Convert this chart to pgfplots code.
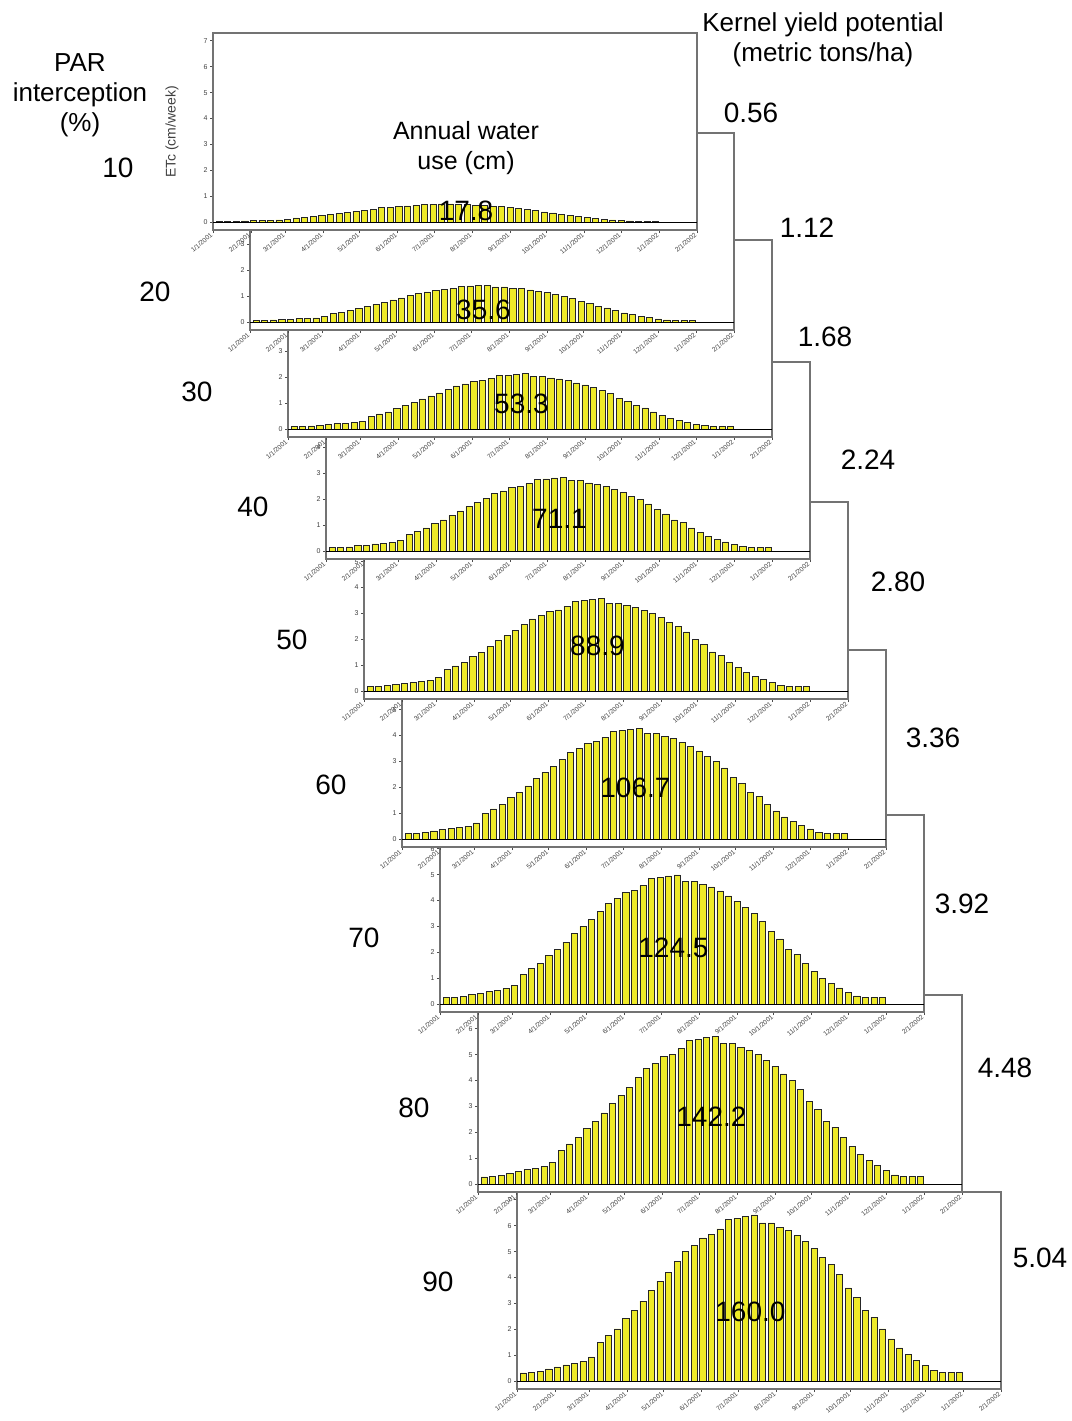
\documentclass[border=0pt]{standalone}
\usepackage{pgfplots}
\usepackage{pgfplotstable}
\pgfplotsset{compat=1.18}
\usepackage{fontspec}
\setmainfont{Liberation Sans}
\setsansfont{Liberation Sans}
\definecolor{baryellow}{RGB}{238,234,40}
\definecolor{framegray}{RGB}{115,115,115}

\pgfplotstableread{
x p10 p20 p30 p40 p50 p60 p70 p80 p90
5 0.04 0.07 0.11 0.14 0.18 0.21 0.25 0.28 0.32
12 0.04 0.08 0.12 0.16 0.19 0.23 0.27 0.31 0.35
19 0.04 0.09 0.13 0.17 0.22 0.26 0.30 0.35 0.39
26 0.05 0.11 0.16 0.21 0.27 0.32 0.37 0.43 0.48
33 0.06 0.12 0.18 0.24 0.31 0.37 0.43 0.49 0.55
40 0.07 0.14 0.21 0.28 0.35 0.42 0.49 0.56 0.63
47 0.08 0.15 0.23 0.30 0.38 0.45 0.53 0.60 0.68
54 0.09 0.17 0.26 0.34 0.43 0.51 0.60 0.68 0.77
61 0.10 0.21 0.31 0.42 0.52 0.63 0.73 0.84 0.94
68 0.17 0.33 0.50 0.66 0.83 0.99 1.16 1.32 1.49
75 0.20 0.39 0.59 0.78 0.98 1.17 1.37 1.56 1.76
82 0.22 0.45 0.67 0.90 1.12 1.35 1.57 1.80 2.02
89 0.27 0.54 0.80 1.07 1.34 1.61 1.87 2.14 2.41
96 0.30 0.60 0.91 1.21 1.51 1.81 2.12 2.42 2.72
103 0.34 0.69 1.03 1.37 1.72 2.06 2.40 2.75 3.09
110 0.39 0.78 1.17 1.56 1.95 2.34 2.73 3.12 3.51
117 0.43 0.86 1.29 1.72 2.14 2.57 3.00 3.43 3.86
124 0.47 0.94 1.40 1.87 2.34 2.81 3.27 3.74 4.21
131 0.51 1.03 1.54 2.05 2.57 3.08 3.59 4.11 4.62
138 0.56 1.12 1.67 2.23 2.79 3.35 3.90 4.46 5.02
145 0.58 1.17 1.75 2.33 2.92 3.50 4.08 4.67 5.25
152 0.61 1.23 1.84 2.46 3.07 3.69 4.30 4.92 5.53
159 0.63 1.26 1.88 2.51 3.14 3.77 4.39 5.02 5.65
166 0.65 1.31 1.96 2.61 3.27 3.92 4.57 5.23 5.88
173 0.69 1.39 2.08 2.77 3.47 4.16 4.85 5.55 6.24
180 0.70 1.40 2.09 2.79 3.49 4.19 4.88 5.58 6.28
187 0.71 1.42 2.12 2.83 3.54 4.25 4.95 5.66 6.37
194 0.71 1.43 2.14 2.85 3.57 4.28 4.99 5.71 6.42
201 0.68 1.36 2.04 2.72 3.39 4.07 4.75 5.43 6.11
208 0.68 1.36 2.04 2.72 3.39 4.07 4.75 5.43 6.11
215 0.66 1.32 1.98 2.64 3.31 3.97 4.63 5.29 5.95
222 0.65 1.29 1.94 2.59 3.23 3.88 4.53 5.17 5.82
229 0.62 1.25 1.87 2.50 3.12 3.75 4.37 5.00 5.62
236 0.60 1.20 1.79 2.39 2.99 3.59 4.18 4.78 5.38
243 0.57 1.14 1.71 2.28 2.84 3.41 3.98 4.55 5.12
250 0.53 1.06 1.60 2.13 2.66 3.19 3.73 4.26 4.79
257 0.50 1.00 1.50 2.00 2.50 3.00 3.50 4.00 4.50
264 0.46 0.92 1.37 1.83 2.29 2.75 3.20 3.66 4.12
271 0.40 0.80 1.20 1.60 2.00 2.40 2.80 3.20 3.60
278 0.36 0.72 1.08 1.44 1.80 2.16 2.52 2.88 3.24
285 0.30 0.61 0.91 1.21 1.52 1.82 2.12 2.43 2.73
292 0.27 0.55 0.82 1.10 1.37 1.65 1.92 2.20 2.47
299 0.22 0.45 0.67 0.90 1.12 1.35 1.57 1.80 2.02
306 0.18 0.36 0.54 0.72 0.91 1.09 1.27 1.45 1.63
313 0.14 0.29 0.43 0.57 0.72 0.86 1.00 1.15 1.29
320 0.11 0.23 0.34 0.46 0.57 0.69 0.80 0.92 1.03
327 0.09 0.18 0.27 0.36 0.45 0.54 0.63 0.72 0.81
334 0.07 0.13 0.20 0.27 0.33 0.40 0.47 0.53 0.60
341 0.05 0.09 0.14 0.18 0.23 0.27 0.32 0.36 0.41
348 0.04 0.08 0.12 0.16 0.19 0.23 0.27 0.31 0.35
355 0.04 0.08 0.12 0.16 0.19 0.23 0.27 0.31 0.35
362 0.04 0.08 0.12 0.16 0.19 0.23 0.27 0.31 0.35
}\etdata

\pgfplotsset{panel/.style={
  width=242pt, height=98.5pt, scale only axis,
  xmin=0, xmax=396, ymin=-0.3, ymax=7.3,
  anchor=north west,
  axis background/.style={fill=white},
  axis line style={framegray, line width=0.6pt},
  xtick={0,31,59,90,120,151,181,212,243,273,304,334,365,396},
  xticklabels={1/1/2001,2/1/2001,3/1/2001,4/1/2001,5/1/2001,6/1/2001,7/1/2001,8/1/2001,9/1/2001,10/1/2001,11/1/2001,12/1/2001,1/1/2002,2/1/2002},
  ytick={0,...,7},
  tick align=outside, major tick length=1.5pt,
  xtick pos=bottom, ytick pos=left,
  tick style={black!70, line width=0.3pt},
  xticklabel style={font=\fontsize{3.3}{3.6}\selectfont, rotate=40, anchor=east, inner sep=0.8pt, text=black!75},
  yticklabel style={font=\fontsize{3.5}{4}\selectfont, inner sep=1pt, text=black!75},
  /pgf/number format/assume math mode=true,
  ybar, bar width=5, bar shift=0pt,
}}

\newcommand{\panel}[5]{%
  \begin{axis}[panel, at={#1}]
    \addplot[fill=baryellow, draw=black!85, line width=0.3pt] table[x=x, y=#2] {\etdata};
    \draw[black, line width=0.5pt] (axis cs:0,0) -- (axis cs:396,0);
    \node[font=\fontsize{14}{16}\selectfont] at (axis cs:#3,#4) {#5};
  \end{axis}}

\begin{document}
\begin{tikzpicture}
\useasboundingbox (0,0) rectangle (536pt,-710.5pt);
\panel{(258.5pt,-596pt)}{p90}{191}{2.66}{160.0}
\panel{(239pt,-497.5pt)}{p80}{191}{2.6}{142.2}
\panel{(220pt,-407.5pt)}{p70}{191}{2.16}{124.5}
\panel{(201pt,-325pt)}{p60}{191}{2.0}{106.7}
\panel{(182pt,-251pt)}{p50}{191}{1.74}{88.9}
\panel{(163pt,-181pt)}{p40}{191}{1.24}{71.1}
\panel{(144pt,-120pt)}{p30}{191}{0.97}{53.3}
\panel{(125pt,-66.5pt)}{p20}{191}{0.46}{35.6}
\panel{(106.5pt,-16.5pt)}{p10}{207}{0.45}{17.8}

% annotations
\node[rotate=90, font=\fontsize{7}{8}\selectfont, text=black!75] at (86pt,-66pt) {ETc (cm/week)};
\node[align=center, font=\fontsize{12.5}{15}\selectfont] at (233pt,-74pt) {Annual water\\use (cm)};
\node[align=center, font=\fontsize{13}{15}\selectfont] at (40pt,-47.5pt) {PAR\\interception\\(\%)};
\node[align=center, font=\fontsize{13}{15}\selectfont] at (411.5pt,-20pt) {Kernel yield potential\\(metric tons/ha)};

\begin{scope}[every node/.style={font=\fontsize{14}{16}\selectfont}]
\node at (59pt,-84pt) {10};
\node at (77.5pt,-146pt) {20};
\node at (98.5pt,-196pt) {30};
\node at (126.5pt,-253.5pt) {40};
\node at (146pt,-320pt) {50};
\node at (165.5pt,-392.5pt) {60};
\node at (182pt,-469pt) {70};
\node at (207pt,-554pt) {80};
\node at (219pt,-641pt) {90};
\node at (375.5pt,-56.5pt) {0.56};
\node at (403.5pt,-114pt) {1.12};
\node at (412.5pt,-168.5pt) {1.68};
\node at (434pt,-230pt) {2.24};
\node at (449pt,-291pt) {2.80};
\node at (466.5pt,-369pt) {3.36};
\node at (481pt,-452pt) {3.92};
\node at (502.5pt,-534pt) {4.48};
\node at (520pt,-629pt) {5.04};
\end{scope}
\end{tikzpicture}
\end{document}
